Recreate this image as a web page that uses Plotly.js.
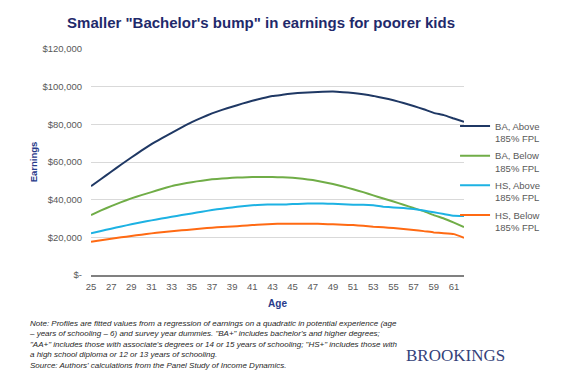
<!DOCTYPE html>
<html>
<head>
<meta charset="utf-8">
<script src="https://cdn.plot.ly/plotly-3.0.1.min.js"></script>
<style>
html,body{margin:0;padding:0;background:#fff;}
#chart{width:570px;height:386px;}
</style>
</head>
<body>
<div id="chart"></div>
<script>
const ages = [25,26,27,28,29,30,31,32,33,34,35,36,37,38,39,40,41,42,43,44,45,46,47,48,49,50,51,52,53,54,55,56,57,58,59,60,61,62];
const baAbove = [47200,51000,54800,58700,62400,66000,69500,72600,75500,78400,81200,83600,85800,87700,89300,91000,92500,93800,95000,95700,96400,96800,97100,97300,97400,97100,96700,96000,95100,94000,92800,91300,89700,88000,86100,84900,83100,81300];
const baBelow = [31800,34300,36600,38700,40700,42400,44000,45700,47200,48300,49300,50100,50800,51200,51600,51800,52000,52100,52000,51900,51600,51100,50400,49400,48300,47000,45500,44000,42300,40600,39000,37300,35600,33900,31800,30000,27800,25500];
const hsAbove = [22100,23400,24600,25800,26900,28000,29000,30000,30900,31800,32700,33600,34500,35200,35900,36500,37000,37300,37500,37400,37700,37800,38000,37900,37800,37600,37300,37300,37000,36300,35900,35600,35000,34200,33300,32400,31400,31300];
const hsBelow = [17700,18500,19300,20000,20700,21400,22100,22700,23200,23700,24200,24700,25100,25500,25800,26100,26500,26800,27100,27200,27200,27200,27200,27100,26900,26700,26500,26100,25600,25300,24900,24400,23900,23300,22600,22200,21700,19800];
const seriesNames = ["BA, Above<br>185% FPL","BA, Below<br>185% FPL","HS, Above<br>185% FPL","HS, Below<br>185% FPL"];
const yTickVals = [0,20000,40000,60000,80000,100000,120000];
const yTickText = ["$-","$20,000","$40,000","$60,000","$80,000","$100,000","$120,000"];
const titleText = 'Smaller "Bachelor\'s bump" in earnings for poorer kids';
const noteText = 'Note: Profiles are fitted values from a regression of earnings on a quadratic in potential experience (age<br>– years of schooling – 6) and survey year dummies. "BA+" includes bachelor\'s and higher degrees;<br>"AA+" includes those with associate\'s degrees or 14 or 15 years of schooling; "HS+" includes those with<br>a high school diploma or 12 or 13 years of schooling.<br>Source: Authors\' calculations from the Panel Study of Income Dynamics.';

const colors = ['#1F3864','#70AD47','#1DB2E3','#FF6A13'];
const values = [baAbove, baBelow, hsAbove, hsBelow];
const traces = values.map((v,i)=>({
  x: ages, y: v, type:'scatter', mode:'lines', name: seriesNames[i], legendgroup:'g'+i,
  line:{color:colors[i], width:2, shape:'spline', smoothing:0.3}
}));

const layout = {
  width:570, height:386,
  margin:{l:91, r:106, t:49, b:111},
  paper_bgcolor:'#fff', plot_bgcolor:'#fff',
  font:{family:'"Liberation Sans", Arial, sans-serif', color:'#595959'},
  title:{text:'<b>'+titleText+'</b>', font:{size:15, color:'#1F2A6B'}, x:0.458, xref:'container', xanchor:'center', y:0.94, yref:'container', yanchor:'middle'},
  xaxis:{type:'category', dtick:2, tick0:0, showgrid:false, showline:true, linecolor:'#808080', linewidth:2,
    ticks:'', tickfont:{size:9.5, color:'#595959'}, ticklabelstandoff:2,
    title:{text:'<b>Age</b>', font:{size:10, color:'#283A8A'}, standoff:9}},
  yaxis:{range:[0,120000], tickvals:yTickVals, ticktext:yTickText, showgrid:true, gridcolor:'#D9D9D9', gridwidth:1,
    zeroline:false, showline:false, ticks:'', tickfont:{size:9.5, color:'#595959'}, ticklabelstandoff:8,
    title:{text:'<b>Earnings</b>', font:{size:9.5, color:'#283A8A'}, standoff:3}},
  showlegend:true,
  legend:{x:0.976, xanchor:'left', y:0.7155, yanchor:'top', valign:'top', traceorder:'grouped', tracegroupgap:2,
    font:{size:9.5, color:'#595959'}, bgcolor:'rgba(0,0,0,0)', itemwidth:30},
  annotations:[
    {text:noteText, xref:'paper', yref:'paper', x:-0.1716, y:-0.185, xanchor:'left', yanchor:'top', align:'left', showarrow:false,
     font:{size:8, color:'#262626', style:'italic'}},
    {text:'BROOKINGS', xref:'paper', yref:'paper', x:0.976, y:-0.354, xanchor:'center', yanchor:'middle', showarrow:false,
     font:{family:'"Liberation Serif", "DejaVu Serif", serif', size:17, color:'#34427A'}}
  ]
};
Plotly.newPlot('chart', traces, layout, {displayModeBar:false, staticPlot:true});
</script>
</body>
</html>
